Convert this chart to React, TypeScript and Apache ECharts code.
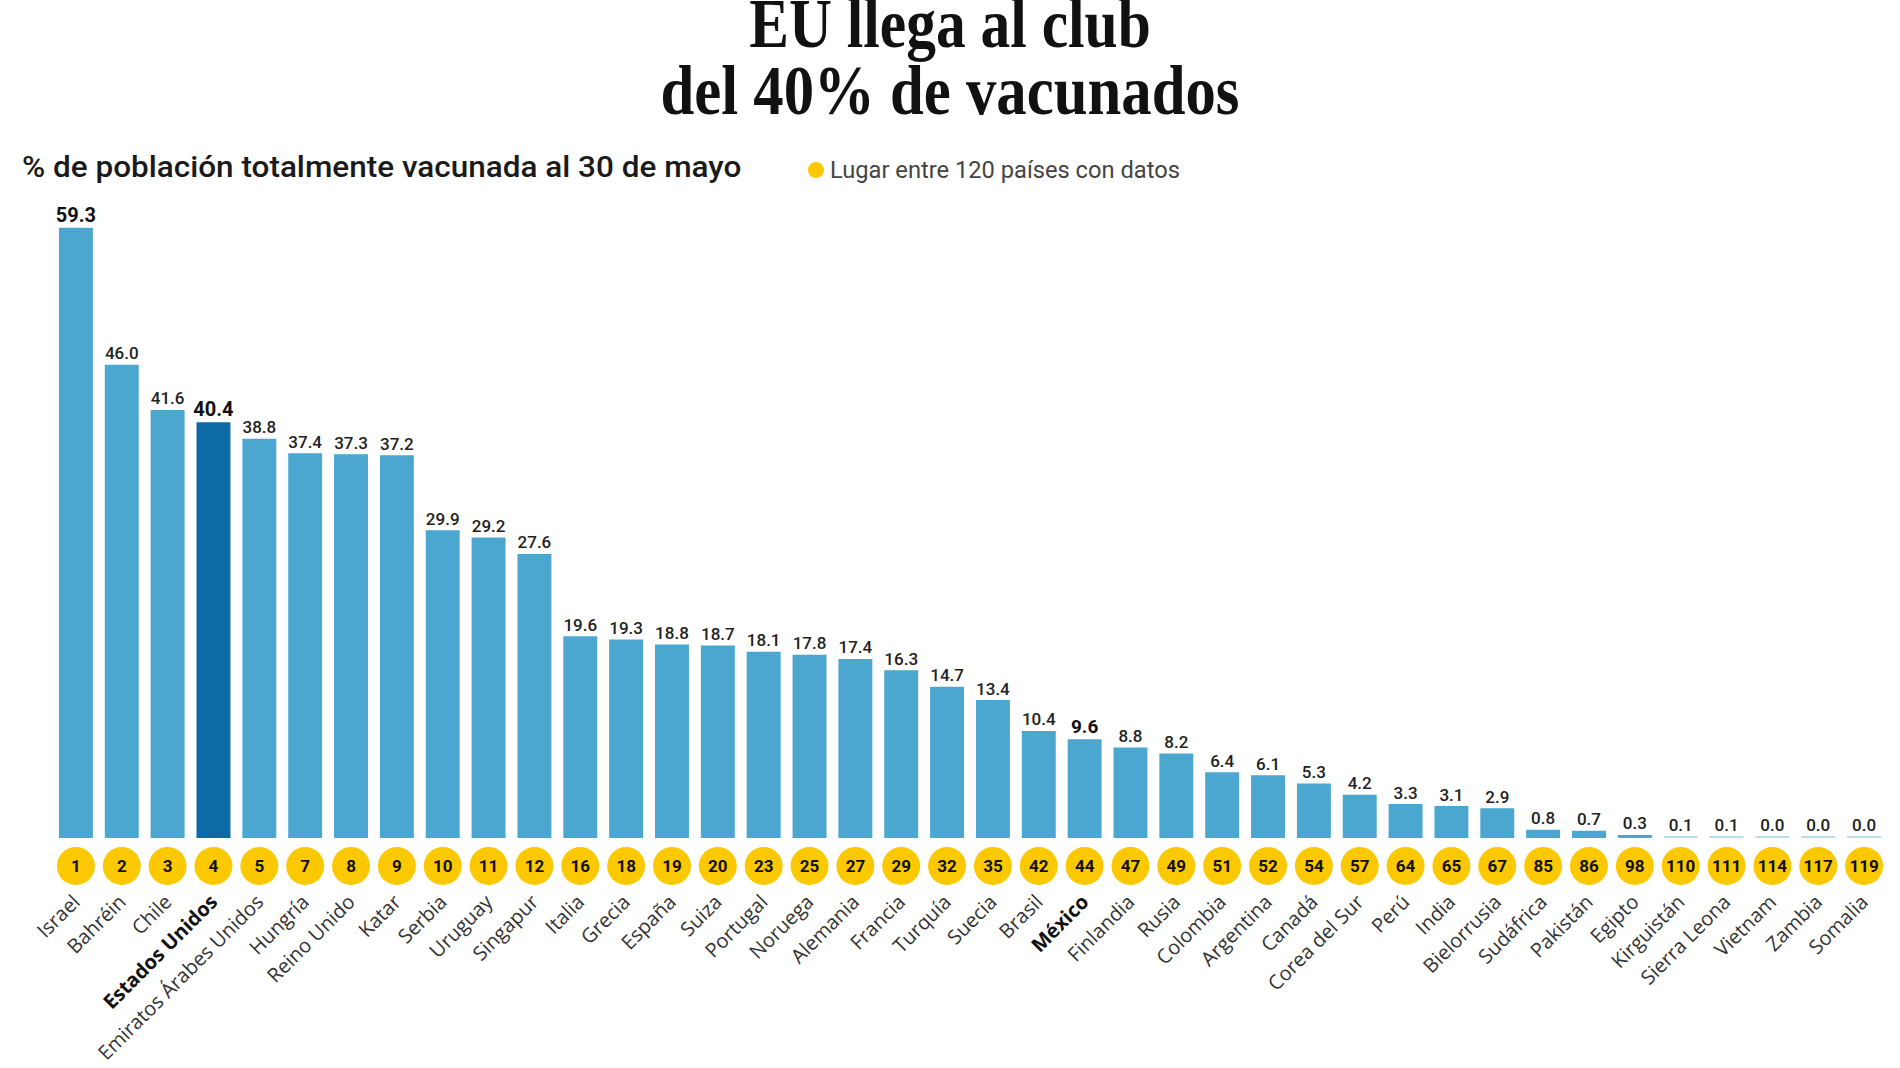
import React, { useEffect, useRef } from "react";
import * as echarts from "echarts";

const countries = [
  "Israel", "Bahréin", "Chile", "Estados Unidos", "Emiratos Árabes Unidos", "Hungría",
  "Reino Unido", "Katar", "Serbia", "Uruguay", "Singapur", "Italia", "Grecia", "España",
  "Suiza", "Portugal", "Noruega", "Alemania", "Francia", "Turquía", "Suecia", "Brasil",
  "México", "Finlandia", "Rusia", "Colombia", "Argentina", "Canadá", "Corea del Sur",
  "Perú", "India", "Bielorrusia", "Sudáfrica", "Pakistán", "Egipto", "Kirguistán",
  "Sierra Leona", "Vietnam", "Zambia", "Somalia",
];

const vaccinated = [
  59.3, 46.0, 41.6, 40.4, 38.8, 37.4, 37.3, 37.2, 29.9, 29.2, 27.6, 19.6, 19.3, 18.8,
  18.7, 18.1, 17.8, 17.4, 16.3, 14.7, 13.4, 10.4, 9.6, 8.8, 8.2, 6.4, 6.1, 5.3, 4.2,
  3.3, 3.1, 2.9, 0.8, 0.7, 0.3, 0.1, 0.1, 0.0, 0.0, 0.0,
];

const ranks = [
  1, 2, 3, 4, 5, 7, 8, 9, 10, 11, 12, 16, 18, 19, 20, 23, 25, 27, 29, 32, 35, 42, 44,
  47, 49, 51, 52, 54, 57, 64, 65, 67, 85, 86, 98, 110, 111, 114, 117, 119,
];

const titleLines = ["EU llega al club", "del 40% de vacunados"];
const subtitle = "% de población totalmente vacunada al 30 de mayo";
const legendText = "Lugar entre 120 países con datos";
const highlighted = ["Estados Unidos"];
const boldNames = ["Estados Unidos", "México"];

const LIGHT = "#4ba6d0";
const DARK = "#0e6aa6";
const PALE = "#bcdcec";
const YELLOW = "#fcc800";

export default function App() {
  const ref = useRef<HTMLDivElement>(null);

  useEffect(() => {
    if (!ref.current) return;
    const chart = echarts.init(ref.current, undefined, { renderer: "svg" });

    const barData = vaccinated.map((v, i) => {
      const name = countries[i];
      const color = highlighted.includes(name) ? DARK : v < 0.2 ? PALE : LIGHT;
      let labelRich = "n";
      if (i === 0) labelRich = "big";
      else if (highlighted.includes(name)) labelRich = "big";
      else if (boldNames.includes(name)) labelRich = "bold";
      return {
        value: v,
        itemStyle: { color },
        label: {
          formatter: () => `{${labelRich}|${v.toFixed(1)}}`,
        },
      };
    });

    const option: any = {
      animation: false,
      backgroundColor: "#ffffff",
      grid: { left: 53, right: 13, top: 220.6, bottom: 230, containLabel: false },
      xAxis: [
        {
          type: "category",
          data: countries,
          position: "bottom",
          offset: 0,
          axisLine: { show: false },
          axisTick: { show: false },
          axisLabel: {
            interval: 0,
            rotate: 45,
            margin: 60,
            fontFamily: "Open Sans",
            fontSize: 20,
            color: "#333333",
            formatter: (val: string) =>
              boldNames.includes(val) ? `{b|${val}}` : `{r|${val}}`,
            rich: {
              r: { fontFamily: "Open Sans", fontSize: 20, color: "#333333" },
              b: { fontFamily: "Open Sans", fontSize: 20, fontWeight: "bold", color: "#111111" },
            },
          },
        },
        {
          type: "category",
          data: ranks.map(String),
          position: "bottom",
          offset: 0,
          axisLine: { show: false },
          axisTick: { show: false },
          axisLabel: {
            interval: 0,
            margin: 9,
            formatter: (val: string) => `{c|${val}}`,
            rich: {
              c: {
                width: 38,
                height: 38,
                lineHeight: 38,
                borderRadius: 19,
                backgroundColor: YELLOW,
                align: "center",
                fontFamily: "Roboto",
                fontWeight: "bold",
                fontSize: 17,
                color: "#111111",
              },
            },
          },
        },
      ],
      yAxis: {
        type: "value",
        min: 0,
        max: 60,
        show: false,
        splitLine: { show: false },
      },
      series: [
        {
          type: "bar",
          xAxisIndex: 0,
          barWidth: "74%",
          barMinHeight: 2,
          data: barData,
          label: {
            show: true,
            position: "top",
            distance: 3,
            rich: {
              n: { fontFamily: "Roboto", fontWeight: 500, fontSize: 17, color: "#222222" },
              bold: { fontFamily: "Roboto", fontWeight: "bold", fontSize: 19, color: "#111111" },
              big: { fontFamily: "Roboto", fontWeight: "bold", fontSize: 20, color: "#111111" },
            },
          },
        },
      ],
      graphic: [
        {
          type: "text",
          x: 950,
          y: 23,
          scaleX: 0.85,
          style: {
            text: titleLines[0],
            fontFamily: "Liberation Serif",
            fontWeight: "bold",
            fontSize: 70,
            fill: "#111111",
            align: "center",
            verticalAlign: "middle",
          },
        },
        {
          type: "text",
          x: 950,
          y: 91,
          scaleX: 0.868,
          style: {
            text: titleLines[1],
            fontFamily: "Liberation Serif",
            fontWeight: "bold",
            fontSize: 70,
            fill: "#111111",
            align: "center",
            verticalAlign: "middle",
          },
        },
        {
          type: "text",
          x: 22,
          y: 167,
          scaleX: 1.05,
          style: {
            text: subtitle,
            fontFamily: "Roboto",
            fontWeight: 500,
            fontSize: 30,
            fill: "#1a1a1a",
            align: "left",
            verticalAlign: "middle",
          },
        },
        {
          type: "circle",
          shape: { cx: 816, cy: 170, r: 8 },
          style: { fill: YELLOW },
        },
        {
          type: "text",
          x: 830,
          y: 170,
          scaleX: 1.03,
          style: {
            text: legendText,
            fontFamily: "Roboto",
            fontSize: 23,
            fill: "#444444",
            align: "left",
            verticalAlign: "middle",
          },
        },
      ],
    };

    chart.setOption(option);
    return () => chart.dispose();
  }, []);

  return (
    <div
      ref={ref}
      style={{ position: "absolute", left: 0, top: 0, width: 1900, height: 1068, background: "#fff" }}
    />
  );
}
